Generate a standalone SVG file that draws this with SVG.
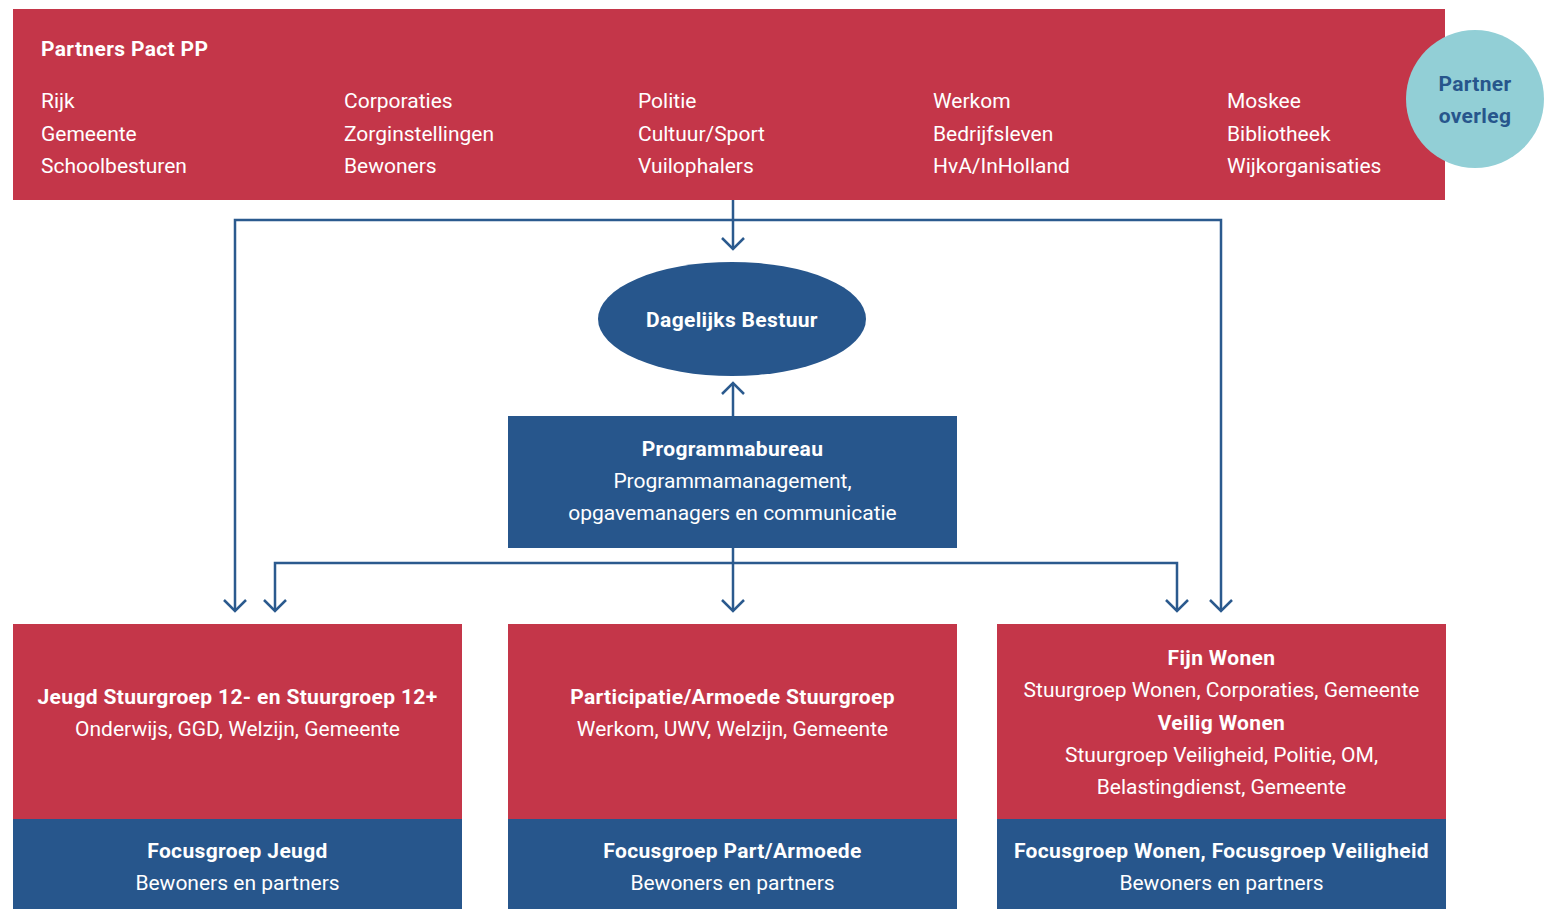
<svg xmlns="http://www.w3.org/2000/svg" width="1566" height="909" viewBox="0 0 1566 909">
<style>
.red{fill:#c43649}
.blue{fill:#27568c}
.t{font-family:Roboto,"Liberation Sans",sans-serif;font-size:21px;fill:#ffffff}
.b{font-weight:bold;letter-spacing:0.35px}
.c{text-anchor:middle}
.con{fill:none;stroke:#2b5a8e;stroke-width:2.5}
</style>
<defs>
<marker id="arr" viewBox="-13 -12 15 24" markerWidth="15" markerHeight="24" refX="0" refY="0" orient="auto" markerUnits="userSpaceOnUse">
<path d="M-11,-11 L0,0 L-11,11" fill="none" stroke="#2b5a8e" stroke-width="2.5"/>
</marker>
</defs>
<rect width="1566" height="909" fill="#ffffff"/>
<g id="connectors" class="con">
<path d="M733,200 V249" marker-end="url(#arr)"/>
<path d="M733,220 H235 V611" marker-end="url(#arr)"/>
<path d="M733,220 H1221 V611" marker-end="url(#arr)"/>
<path d="M733,416 V383" marker-end="url(#arr)"/>
<path d="M733,548 V611" marker-end="url(#arr)"/>
<path d="M733,563 H275 V611" marker-end="url(#arr)"/>
<path d="M733,563 H1177 V611" marker-end="url(#arr)"/>
</g>
<g id="partners">
<rect class="red" x="13" y="9" width="1432" height="191"/>
<text class="t b" x="41" y="56">Partners Pact PP</text>
<text class="t" x="41" y="108">Rijk</text>
<text class="t" x="41" y="141">Gemeente</text>
<text class="t" x="41" y="173">Schoolbesturen</text>
<text class="t" x="344" y="108">Corporaties</text>
<text class="t" x="344" y="141">Zorginstellingen</text>
<text class="t" x="344" y="173">Bewoners</text>
<text class="t" x="638" y="108">Politie</text>
<text class="t" x="638" y="141">Cultuur/Sport</text>
<text class="t" x="638" y="173">Vuilophalers</text>
<text class="t" x="933" y="108">Werkom</text>
<text class="t" x="933" y="141">Bedrijfsleven</text>
<text class="t" x="933" y="173">HvA/InHolland</text>
<text class="t" x="1227" y="108">Moskee</text>
<text class="t" x="1227" y="141">Bibliotheek</text>
<text class="t" x="1227" y="173">Wijkorganisaties</text>
</g>
<g id="partneroverleg">
<circle cx="1475" cy="99" r="69" fill="#92cfd6"/>
<text class="t b c" x="1475" y="91" style="fill:#27568c">Partner</text>
<text class="t b c" x="1475" y="123" style="fill:#27568c">overleg</text>
</g>
<g id="dagelijksbestuur">
<ellipse class="blue" cx="732" cy="319" rx="134" ry="57"/>
<text class="t b c" x="732" y="327">Dagelijks Bestuur</text>
</g>
<g id="programmabureau">
<rect class="blue" x="508" y="416" width="449" height="132"/>
<text class="t b c" x="732.5" y="456">Programmabureau</text>
<text class="t c" x="732.5" y="488">Programmamanagement,</text>
<text class="t c" x="732.5" y="520">opgavemanagers en communicatie</text>
</g>
<g id="jeugd">
<rect class="red" x="13" y="624" width="449" height="195"/>
<text class="t b c" x="237.5" y="704">Jeugd Stuurgroep 12- en Stuurgroep 12+</text>
<text class="t c" x="237.5" y="736">Onderwijs, GGD, Welzijn, Gemeente</text>
</g>
<g id="focusjeugd">
<rect class="blue" x="13" y="819" width="449" height="90"/>
<text class="t b c" x="237.5" y="858">Focusgroep Jeugd</text>
<text class="t c" x="237.5" y="890">Bewoners en partners</text>
</g>
<g id="participatie">
<rect class="red" x="508" y="624" width="449" height="195"/>
<text class="t b c" x="732.5" y="704">Participatie/Armoede Stuurgroep</text>
<text class="t c" x="732.5" y="736">Werkom, UWV, Welzijn, Gemeente</text>
</g>
<g id="focuspart">
<rect class="blue" x="508" y="819" width="449" height="90"/>
<text class="t b c" x="732.5" y="858">Focusgroep Part/Armoede</text>
<text class="t c" x="732.5" y="890">Bewoners en partners</text>
</g>
<g id="wonen">
<rect class="red" x="997" y="624" width="449" height="195"/>
<text class="t b c" x="1221.5" y="665">Fijn Wonen</text>
<text class="t c" x="1221.5" y="697">Stuurgroep Wonen, Corporaties, Gemeente</text>
<text class="t b c" x="1221.5" y="730">Veilig Wonen</text>
<text class="t c" x="1221.5" y="762">Stuurgroep Veiligheid, Politie, OM,</text>
<text class="t c" x="1221.5" y="794">Belastingdienst, Gemeente</text>
</g>
<g id="focuswonen">
<rect class="blue" x="997" y="819" width="449" height="90"/>
<text class="t b c" x="1221.5" y="858">Focusgroep Wonen, Focusgroep Veiligheid</text>
<text class="t c" x="1221.5" y="890">Bewoners en partners</text>
</g>
</svg>
